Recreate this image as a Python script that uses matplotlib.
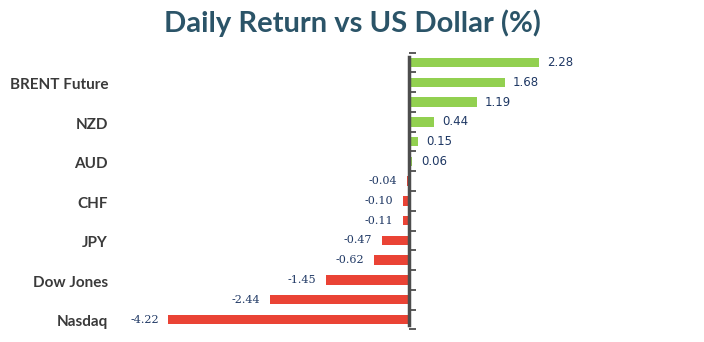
import numpy as np
import matplotlib.pyplot as plt
from matplotlib.transforms import blended_transform_factory
from matplotlib.ticker import FixedLocator, NullFormatter

# top to bottom; only every other category is labelled in the original
labels = ['', 'BRENT Future', '', 'NZD', '', 'AUD', '', 'CHF',
          '', 'JPY', '', 'Dow Jones', '', 'Nasdaq']
values = [2.28, 1.68, 1.19, 0.44, 0.15, 0.06, -0.04, -0.10,
          -0.11, -0.47, -0.62, -1.45, -2.44, -4.22]

GREEN = '#92D050'
RED = '#EA4335'
TXT = '#1F3864'

fig = plt.figure(figsize=(7.04, 3.42), dpi=100)
ax = fig.add_axes([124 / 704, (342 - 329.4) / 342, 570 / 704, 276.8 / 342])

y = np.arange(len(values))
colors = [GREEN if v >= 0 else RED for v in values]
ax.barh(y, values, height=0.48, color=colors, zorder=2)

ax.set_xlim(-5, 5)
ax.set_ylim(len(values) - 0.5, -0.5)

for sp in ['top', 'right', 'bottom']:
    ax.spines[sp].set_visible(False)
ax.spines['left'].set_position(('data', 0))
ax.spines['left'].set_color('#4D4D4D')
ax.spines['left'].set_linewidth(2.5)
ax.spines['left'].set_bounds(len(values) - 0.7, -0.3)
ax.spines['left'].set_zorder(3)
ax.set_xticks([])
ax.yaxis.set_major_locator(FixedLocator(np.arange(-0.5, len(values), 1.0)))
ax.yaxis.set_major_formatter(NullFormatter())
ax.tick_params(axis='y', direction='in', length=5, width=1.3, color='#4D4D4D')

for i, v in enumerate(values):
    if v >= 0:
        ax.annotate(f'{v:.2f}', (v, i), xytext=(6, 0), textcoords='offset points',
                    ha='left', va='center', fontsize=8.5, color=TXT,
                    family='DejaVu Sans')
    else:
        ax.annotate(f'{v:.2f}', (v, i), xytext=(-7, 0), textcoords='offset points',
                    ha='right', va='center', fontsize=8, color=TXT,
                    family='DejaVu Serif')

lab_tr = blended_transform_factory(fig.transFigure, ax.transData)
for i, lab in enumerate(labels):
    if lab:
        ax.text(108 / 704, i + 0.15, lab, transform=lab_tr,
                ha='right', va='center', fontsize=11, fontweight='bold',
                color='#3A3A3A', family='Lato')

fig.text(352 / 704, 1 - 23 / 342, 'Daily Return vs US Dollar (%)', ha='center', va='center',
         fontsize=21, fontweight='bold', color='#2B5468', family='Lato')

fig.savefig('out.png', dpi=100)
